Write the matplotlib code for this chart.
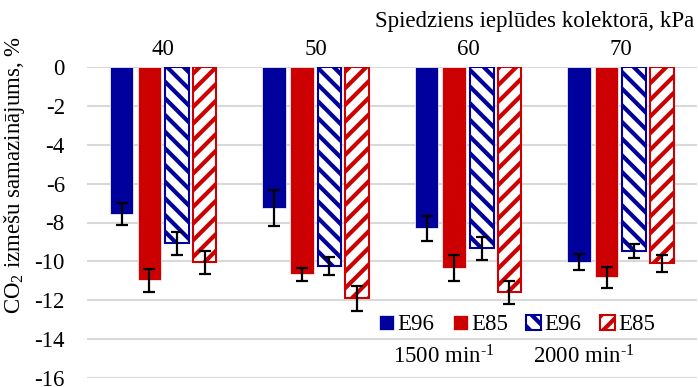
import numpy as np
import matplotlib
matplotlib.use("Agg")
import matplotlib.pyplot as plt

plt.rcParams['font.family'] = ['Liberation Serif', 'DejaVu Serif']
plt.rcParams['mathtext.fontset'] = 'custom'
plt.rcParams['mathtext.rm'] = 'Liberation Serif'
plt.rcParams['mathtext.it'] = 'Liberation Serif:italic'
plt.rcParams['axes.unicode_minus'] = False
plt.rcParams['hatch.linewidth'] = 3.0

# pressure groups and CO2 change, %
pressure = ['40', '50', '60', '70']
e96_1500 = [-7.58, -7.27, -8.30, -10.05]
e85_1500 = [-10.98, -10.67, -10.36, -10.82]
e96_2000 = [-9.07, -10.26, -9.33, -9.48]
e85_2000 = [-10.05, -11.90, -11.60, -10.10]
e96_1500_err = [0.57, 0.93, 0.64, 0.41]
e85_1500_err = [0.57, 0.33, 0.67, 0.54]
e96_2000_err = [0.60, 0.46, 0.59, 0.36]
e85_2000_err = [0.60, 0.64, 0.57, 0.44]

blue = '#00009C'
red = '#CC0000'
fs = 16.5

fig = plt.figure(figsize=(6.98, 3.87), dpi=100)
ax = fig.add_axes([87 / 698, 1 - 378 / 387, 1 - 87 / 698 - 0.002, (378 - 67) / 387])

x = np.arange(len(pressure))
slot = 0.1813
w = 0.154
series = [
    (e96_1500, e96_1500_err, dict(color=blue, edgecolor='white', linewidth=0.5), 'E96'),
    (e85_1500, e85_1500_err, dict(color=red, edgecolor='white', linewidth=0.5), 'E85'),
    (e96_2000, e96_2000_err, dict(facecolor='white', edgecolor=blue, hatch='\\\\', linewidth=1.5), 'E96'),
    (e85_2000, e85_2000_err, dict(facecolor='white', edgecolor=red, hatch='//', linewidth=1.5), 'E85'),
]
handles = []
for i, (vals, errs, style, lab) in enumerate(series):
    pos = x + (i - 1.5) * slot
    b = ax.bar(pos, vals, w, zorder=2, label=lab, **style)
    handles.append(b)
    ax.errorbar(pos, vals, yerr=errs, fmt='none', ecolor='black',
                elinewidth=1.6, capsize=4, capthick=1.6, zorder=3)

ax.set_xlim(-0.5, 3.5)
ax.set_ylim(-16, 0)
ax.set_yticks(np.arange(-16, 1, 2))
ax.grid(axis='y', color='#D9D9D9', linewidth=1.5, zorder=0)
ax.set_axisbelow(True)
for s in ax.spines.values():
    s.set_visible(False)
ax.xaxis.tick_top()
ax.set_xticks(x)
ax.set_xticklabels(pressure)
ax.tick_params(axis='both', length=0, labelsize=fs)
ax.tick_params(axis='y', pad=16)
ax.tick_params(axis='x', pad=5)

fig.text(694 / 698, 1 - 21 / 387, 'Spiedziens ieplūdes kolektorā, kPa',
         ha='right', va='center', fontsize=fs)
fig.text(15 / 698, 1 - 175 / 387, r'CO$_2$ izmešu samazinājums, %',
         rotation=90, ha='center', va='center', fontsize=fs)

leg = ax.legend(handles=handles, ncol=4, frameon=False, fontsize=fs,
                loc='center', bbox_to_anchor=(517 / 698, 1 - 325 / 387),
                bbox_transform=fig.transFigure,
                handlelength=0.65, handleheight=0.65, handletextpad=0.15,
                columnspacing=0.8, borderpad=0)
fig.text(444 / 698, 1 - 357 / 387, r'1500 min$^{\text{-1}}$', ha='center', va='center', fontsize=fs)
fig.text(584 / 698, 1 - 357 / 387, r'2000 min$^{\text{-1}}$', ha='center', va='center', fontsize=fs)

fig.savefig('out.png', dpi=100)
